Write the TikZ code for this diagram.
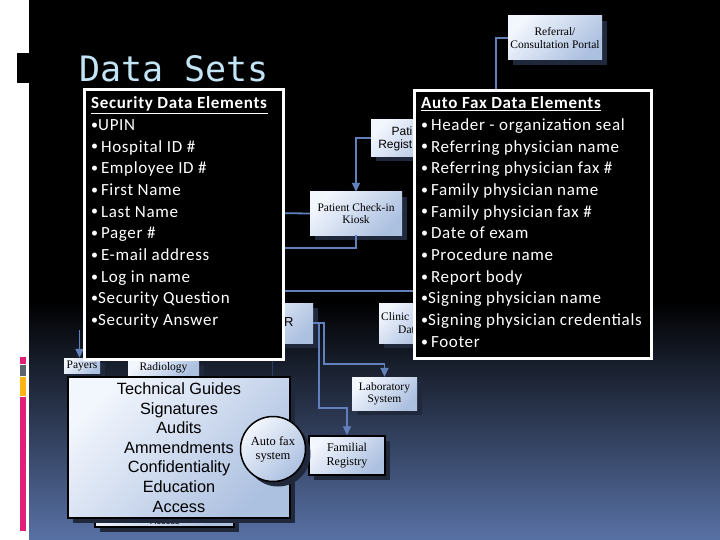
\documentclass[tikz,border=0pt]{standalone}
\usepackage{fontspec}
\setmainfont{Liberation Serif}
\newfontfamily\calib[LetterSpace=4]{Carlito}
\newfontfamily\arialf{Liberation Sans}
\newfontfamily\monof{DejaVu Sans Mono}
\usetikzlibrary{arrows.meta,shadows}
\definecolor{bgbot}{RGB}{88,113,165}
\definecolor{conn}{RGB}{98,128,188}
\definecolor{boxlt}{RGB}{242,246,253}
\definecolor{boxdk}{RGB}{172,192,224}
\definecolor{shad}{RGB}{32,40,60}
\definecolor{titlec}{RGB}{195,228,245}
\definecolor{apink}{RGB}{225,30,120}
\definecolor{agray}{RGB}{90,100,110}
\definecolor{aorange}{RGB}{250,180,20}
\definecolor{faint}{RGB}{45,60,100}
\newcommand\dbul{{\fontsize{14}{14}\selectfont\raisebox{1.2pt}{•}}}
\begin{document}
\begin{tikzpicture}[x=1pt,y=-1pt,
  sysbox/.style={rectangle, inner sep=0pt, align=center,
    font=\fontsize{11.5}{12.5}\selectfont, text=black,
    top color=boxlt, bottom color=boxdk, shading angle=45,
    general shadow={fill=shad, shadow xshift=5pt, shadow yshift=-5pt}},
  conn/.style={draw=conn, line width=1.8pt},
  arr/.style={conn, -{Triangle[width=8pt,length=9pt]}},
  datbox/.style={rectangle, fill=black, draw=white, line width=3pt, inner sep=0pt},
  dattext/.style={inner sep=0pt, anchor=north west, align=left, text=white,
    font=\calib\fontsize{17}{21.7}\selectfont}]
\useasboundingbox (0,0) rectangle (720,540);
% background
\fill[white] (0,0) rectangle (720,540);
\fill[black] (29,0) rectangle (720,300);
\shade[top color=black, bottom color=bgbot] (29,300) rectangle (720,540);
\fill[black] (17,53) rectangle (29,83);
\fill[apink] (20,357) rectangle (26,364);
\fill[agray] (20,365) rectangle (26,376);
\fill[aorange] (20,377) rectangle (26,396);
\fill[apink] (20,397) rectangle (26,531);
% title
\node[anchor=base west, inner sep=0pt, text=titlec, font=\monof\fontsize{35}{37}\selectfont] (title) at (79,82) {Data Sets};

% coordinates for hidden connector ends
\coordinate (refend) at (496,110);
\coordinate (kwest) at (270,213);
\coordinate (kbot) at (270,248);
\coordinate (hl) at (270,291);
\coordinate (hr) at (430,291);
\coordinate (payin) at (79.5,330);
\coordinate (fa) at (272,355);
\coordinate (fb) at (272,378);

% system boxes
\node[sysbox, minimum width=94pt, minimum height=44pt] (referral) at (555,38) {Referral/\\Consultation Portal};
\node[sysbox, minimum width=80pt, minimum height=37pt] (patreg) at (411,138) {};
\node[inner sep=0pt, anchor=east, align=right, font=\arialf\fontsize{12}{13.5}\selectfont] (patregtxt) at (412.5,139) {Pati\\Regist};
\node[sysbox, minimum width=52pt, minimum height=40pt] (clinical) at (405,323) {};
\node[inner sep=0pt, anchor=west, align=left, font=\fontsize{11.5}{12.5}\selectfont] (clintxt) at (381,323) {Clinic\\\hspace*{17pt}Dat};
\node[sysbox, minimum width=92pt, minimum height=43pt] (kiosk) at (356,213.5) {Patient Check-in\\Kiosk};
\node[sysbox, minimum width=80pt, minimum height=40pt] (emr) at (273,323) {};
\node[inner sep=0pt, anchor=west, font=\arialf\fontsize{13}{14}\selectfont] (emrtxt) at (284,322) {R};
\node[sysbox, minimum width=65pt, minimum height=33pt] (lab) at (384.5,393.5) {Laboratory\\System};
\node[sysbox, minimum width=76pt, minimum height=39pt, draw=black, line width=1.5pt, font=\fontsize{12}{13.5}\selectfont] (familial) at (347,455.5) {Familial\\Registry};
\node[sysbox, minimum width=36pt, minimum height=15pt, general shadow={}] (payers) at (82,365.5) {Payers};
\node[sysbox, minimum width=71pt, minimum height=15pt, general shadow={}] (radiology) at (163.5,367.5) {Radiology};

% connectors
\draw[conn] (referral.west) -| (refend);
\draw[arr] (patreg.west) -| (kiosk.north);
\draw[conn] (kiosk.west) -- (kwest);
\draw[conn] (kiosk.south) |- (kbot);
\draw[conn] (hl) -- (hr);
\draw[arr] (emr.east) -| (324,364) -| (lab.north);
\draw[arr] (emr.east) -| (319,408) -| (familial.north);
\draw[arr] (payin) -- (payin |- payers.north);
\draw[draw=faint, line width=1pt] (fa) -- (fb);

% data element boxes
\node[datbox, minimum width=199pt, minimum height=270pt] (secbox) at (184,224.5) {};
\node[dattext] (sectext) at (91,96.5) {\underline{\textbf{Security Data Elements}}\\
\dbul UPIN\\
\dbul\,Hospital ID \#\\
\dbul\,Employee ID \#\\
\dbul\,First Name\\
\dbul\,Last Name\\
\dbul\,Pager \#\\
\dbul\,E-mail address\\
\dbul\,Log in name\\
\dbul Security Question\\
\dbul Security Answer};
\node[datbox, minimum width=237pt, minimum height=268pt] (faxbox) at (533,224.5) {};
\node[dattext] (faxtext) at (421,96.5) {\underline{\textbf{Auto Fax Data Elements}}\\
\dbul\,Header - organization seal\\
\dbul\,Referring physician name\\
\dbul\,Referring physician fax \#\\
\dbul\,Family physician name\\
\dbul\,Family physician fax \#\\
\dbul\,Date of exam\\
\dbul\,Procedure name\\
\dbul\,Report body\\
\dbul Signing physician name\\
\dbul Signing physician credentials\\
\dbul\,Footer};

% bottom-left stack
\node[sysbox, minimum width=139pt, minimum height=37pt, draw=black, line width=1.5pt, general shadow={}] (accbox) at (164.5,508.5) {};
\node[inner sep=0pt, font=\arialf\fontsize{9}{10}\selectfont, text=black] (acclbl) at (165,521) {Access};
\node[sysbox, minimum width=222pt, minimum height=141pt, draw=black, line width=2pt, general shadow={}, font=\arialf\fontsize{16.3}{19.6}\selectfont] (tech) at (179,447.5) {Technical Guides\\Signatures\\Audits\\Ammendments\\Confidentiality\\Education\\Access};
\node[sysbox, circle, minimum size=65pt, draw=black, line width=1.5pt, general shadow={}, font=\fontsize{12.5}{14}\selectfont] (autofax) at (273,449) {Auto fax\\system};
\end{tikzpicture}
\end{document}
